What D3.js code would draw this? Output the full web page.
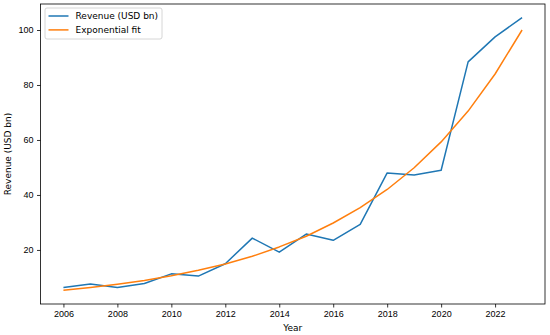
<!DOCTYPE html>
<html>
<head>
<meta charset="utf-8">
<script src="https://cdn.jsdelivr.net/npm/d3@7"></script>
<style>
  body { margin: 0; background: #fff; }
  svg { font-family: 'DejaVu Sans', sans-serif; }
  .axis text { font-size: 9px; fill: #000; }
  .axis path, .axis line { stroke: #000; stroke-width: 0.8; }
</style>
</head>
<body>
<script>
const years = [2006, 2007, 2008, 2009, 2010, 2011, 2012, 2013, 2014, 2015, 2016, 2017, 2018, 2019, 2020, 2021, 2022, 2023];
const revenue = [6.3, 7.6, 6.3, 7.8, 11.3, 10.5, 15.0, 24.3, 19.2, 25.8, 23.5, 29.3, 48.0, 47.3, 49.0, 88.4, 97.5, 104.5];
const fitValues = [5.3, 6.3, 7.5, 8.9, 10.6, 12.6, 14.9, 17.7, 21.1, 25.0, 29.8, 35.4, 42.0, 49.9, 59.3, 70.5, 84.0, 100.0];
const xTicks = [2006, 2008, 2010, 2012, 2014, 2016, 2018, 2020, 2022];
const yTicks = [20, 40, 60, 80, 100];

const W = 550, H = 335;
const margin = { top: 4, right: 5, bottom: 31, left: 40.5 };
const width = W - margin.left - margin.right;
const height = H - margin.top - margin.bottom;

const svg = d3.select('body')
  .append('svg')
  .attr('width', W)
  .attr('height', H);

const g = svg.append('g')
  .attr('transform', `translate(${margin.left},${margin.top})`);

// matplotlib-like 5% padding
const xExt = d3.extent(years);
const xPad = (xExt[1] - xExt[0]) * 0.05;
const allY = revenue.concat(fitValues);
const yExt = d3.extent(allY);
const yPad = (yExt[1] - yExt[0]) * 0.05;

const x = d3.scaleLinear().domain([xExt[0] - xPad, xExt[1] + xPad]).range([0, width]);
const y = d3.scaleLinear().domain([yExt[0] - yPad, yExt[1] + yPad]).range([height, 0]);

g.append('g')
  .attr('class', 'axis')
  .attr('transform', `translate(0,${height})`)
  .call(d3.axisBottom(x).tickValues(xTicks).tickFormat(d3.format('d')).tickSize(3.5).tickPadding(3.5))
  .call(s => s.select('.domain').remove());

g.append('g')
  .attr('class', 'axis')
  .call(d3.axisLeft(y).tickValues(yTicks).tickSize(3.5).tickPadding(3.5))
  .call(s => s.select('.domain').remove());

const line = d3.line()
  .x((d, i) => x(years[i]))
  .y(d => y(d));

g.append('path')
  .datum(revenue)
  .attr('fill', 'none')
  .attr('stroke', '#1f77b4')
  .attr('stroke-width', 1.5)
  .attr('stroke-linejoin', 'round')
  .attr('d', line);

g.append('path')
  .datum(fitValues)
  .attr('fill', 'none')
  .attr('stroke', '#ff7f0e')
  .attr('stroke-width', 1.5)
  .attr('stroke-linejoin', 'round')
  .attr('d', line);

// frame
g.append('rect')
  .attr('width', width)
  .attr('height', height)
  .attr('fill', 'none')
  .attr('stroke', '#000')
  .attr('stroke-width', 0.8);

// legend
const legendItems = [
  { label: 'Revenue (USD bn)', color: '#1f77b4' },
  { label: 'Exponential fit', color: '#ff7f0e' }
];
const lg = g.append('g').attr('transform', 'translate(4.5,4)');
lg.append('rect')
  .attr('width', 117)
  .attr('height', 31)
  .attr('rx', 2)
  .attr('fill', '#fff')
  .attr('fill-opacity', 0.8)
  .attr('stroke', '#ccc')
  .attr('stroke-width', 0.8);
legendItems.forEach((d, i) => {
  const yy = 8 + i * 13.9;
  lg.append('line')
    .attr('x1', 3.5).attr('x2', 23.5)
    .attr('y1', yy).attr('y2', yy)
    .attr('stroke', d.color)
    .attr('stroke-width', 1.5);
  lg.append('text')
    .attr('x', 30.5)
    .attr('y', yy)
    .attr('dy', '0.35em')
    .attr('font-size', '9px')
    .text(d.label);
});

// axis labels
svg.append('text')
  .attr('x', margin.left + width / 2)
  .attr('y', 331)
  .attr('text-anchor', 'middle')
  .attr('font-size', '9px')
  .text('Year');

svg.append('text')
  .attr('transform', `translate(11,${margin.top + height / 2}) rotate(-90)`)
  .attr('text-anchor', 'middle')
  .attr('font-size', '9px')
  .text('Revenue (USD bn)');
</script>
</body>
</html>
